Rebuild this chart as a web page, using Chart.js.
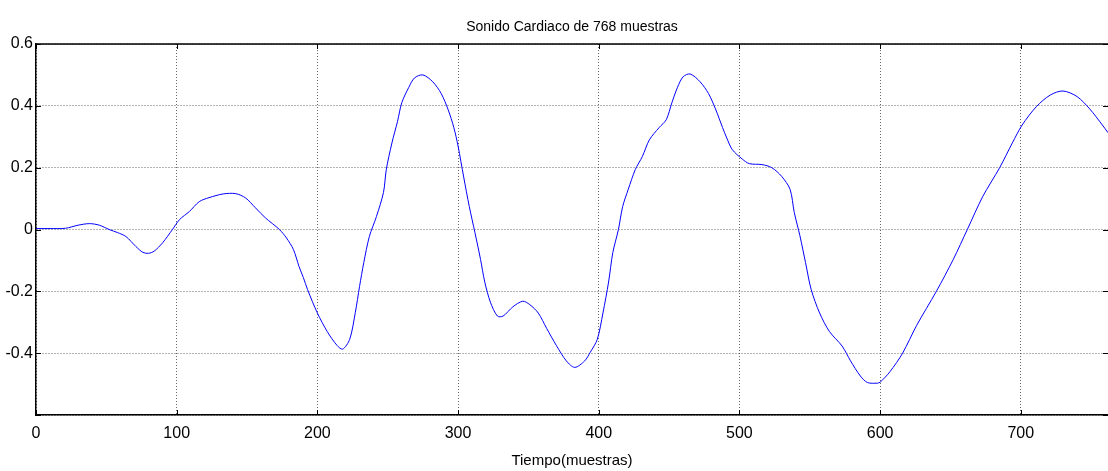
<!DOCTYPE html>
<html>
<head>
<meta charset="utf-8">
<style>
  html, body { margin: 0; padding: 0; background: #fff; }
  #wrap { width: 1108px; height: 471px; }
</style>
</head>
<body>
<div id="wrap"><canvas id="heartChart"></canvas></div>
<script src="https://cdn.jsdelivr.net/npm/chart.js"></script>
<script>
// sample index (x) and amplitude (y)
const samples = [0,10,21,30,38,45,52,58,64,71,76,80,84,90,97,102,109,116,123,133,142,149,156,163,173,178,183,187,190,193,200,207,214,218,223,227,230,233,237,242,247,249,253,257,260,265,269,275,282,288,293,297,300,304,308,312,316,319,323,328,332,339,346,351,357,363,370,377,383,390,394,399,403,407,410,414,417,421,426,431,436,443,448,452,456,460,465,472,478,483,488,491,495,502,507,516,523,530,536,539,543,547,551,557,564,573,579,586,591,598,600,607,616,626,640,652,662,673,685,694,701,711,721,730,740,749,758,762];
const amplitude = [0.003,0.003,0.004,0.014,0.019,0.014,0.0,-0.01,-0.023,-0.055,-0.074,-0.077,-0.07,-0.043,0.0,0.032,0.058,0.09,0.103,0.115,0.116,0.102,0.07,0.038,0.0,-0.027,-0.065,-0.12,-0.155,-0.194,-0.27,-0.33,-0.375,-0.387,-0.355,-0.268,-0.184,-0.107,-0.022,0.042,0.12,0.194,0.28,0.35,0.41,0.46,0.49,0.5,0.478,0.44,0.387,0.33,0.27,0.17,0.074,-0.01,-0.097,-0.17,-0.235,-0.28,-0.28,-0.25,-0.232,-0.243,-0.27,-0.32,-0.376,-0.425,-0.446,-0.425,-0.397,-0.355,-0.27,-0.17,-0.075,0.0,0.074,0.13,0.194,0.236,0.29,0.33,0.355,0.41,0.46,0.494,0.503,0.478,0.44,0.39,0.33,0.296,0.258,0.228,0.213,0.21,0.2,0.172,0.13,0.055,-0.02,-0.107,-0.194,-0.27,-0.33,-0.377,-0.425,-0.474,-0.495,-0.497,-0.494,-0.46,-0.4,-0.31,-0.2,-0.097,0.0,0.107,0.2,0.28,0.338,0.397,0.435,0.448,0.43,0.39,0.338,0.313];
const xTicks = [0,100,200,300,400,500,600,700];
const yTicks = [-0.6,-0.4,-0.2,0,0.2,0.4,0.6];
const chartTitle = 'Sonido Cardiaco de 768 muestras';

const FONT = "'Liberation Sans Narrow', 'Liberation Sans', Arial, sans-serif";

// MATLAB style frame: inward ticks on all four sides, top border, title over the plot area
const matlabFrame = {
    id: 'matlabFrame',
    afterDraw(chart) {
        const {ctx, chartArea: a, scales: {x, y}} = chart;
        ctx.save();
        ctx.strokeStyle = '#000';
        ctx.lineWidth = 1;
        ctx.beginPath();
        xTicks.forEach(v => {
            const px = Math.round(x.getPixelForValue(v)) + 0.5;
            ctx.moveTo(px, a.bottom); ctx.lineTo(px, a.bottom - 5);
            ctx.moveTo(px, a.top); ctx.lineTo(px, a.top + 5);
        });
        yTicks.forEach(v => {
            const py = Math.round(y.getPixelForValue(v)) + 0.5;
            ctx.moveTo(a.left, py); ctx.lineTo(a.left + 5, py);
            ctx.moveTo(a.right, py); ctx.lineTo(a.right - 5, py);
        });
        ctx.stroke();
        ctx.lineWidth = 1.5;
        ctx.beginPath();
        ctx.moveTo(a.left, a.top); ctx.lineTo(a.right, a.top);
        ctx.stroke();

        ctx.fillStyle = '#000';
        ctx.font = '14px ' + FONT;
        ctx.textAlign = 'center';
        ctx.textBaseline = 'middle';
        ctx.fillText(chartTitle, (a.left + a.right) / 2, 27);
        ctx.restore();
    }
};

new Chart(document.getElementById('heartChart'), {
    type: 'line',
    data: {
        datasets: [{
            data: samples.map((s, i) => ({x: s, y: amplitude[i]})),
            borderColor: '#0000ff',
            borderWidth: 1,
            pointRadius: 0,
            tension: 0.3,
            fill: false
        }]
    },
    options: {
        responsive: true,
        maintainAspectRatio: false,
        animation: false,
        layout: { padding: { left: 0, right: 0, top: 44, bottom: 0 } },
        plugins: {
            legend: { display: false },
            tooltip: { enabled: false },
            title: { display: false }
        },
        scales: {
            x: {
                type: 'linear',
                min: 0,
                max: 762,
                afterBuildTicks: s => { s.ticks = xTicks.map(v => ({value: v})); },
                afterFit: s => { s.height = 56; },
                grid: { color: 'rgba(0,0,0,0.6)', drawTicks: false, lineWidth: 1 },
                border: { display: true, color: '#000', width: 1.5, dash: [1, 2] },
                ticks: { color: '#000', font: { family: FONT, size: 16 }, padding: 9, maxRotation: 0 },
                title: {
                    display: true,
                    text: 'Tiempo(muestras)',
                    color: '#000',
                    font: { family: FONT, size: 15 },
                    padding: { top: 0, bottom: 1 }
                }
            },
            y: {
                min: -0.6,
                max: 0.6,
                afterBuildTicks: s => { s.ticks = yTicks.map(v => ({value: v})); },
                afterFit: s => { s.width = 36; },
                grid: { color: 'rgba(0,0,0,0.6)', drawTicks: false, lineWidth: 1 },
                border: { display: true, color: '#000', width: 1.5, dash: [1, 2] },
                ticks: {
                    color: '#000',
                    font: { family: FONT, size: 16 },
                    padding: 3,
                    callback: v => {
                        const r = Math.round(v * 10) / 10;
                        if (r === -0.6) return '';
                        return r === 0 ? '0' : r.toFixed(1);
                    }
                }
            }
        }
    },
    plugins: [matlabFrame]
});
</script>
</body>
</html>
